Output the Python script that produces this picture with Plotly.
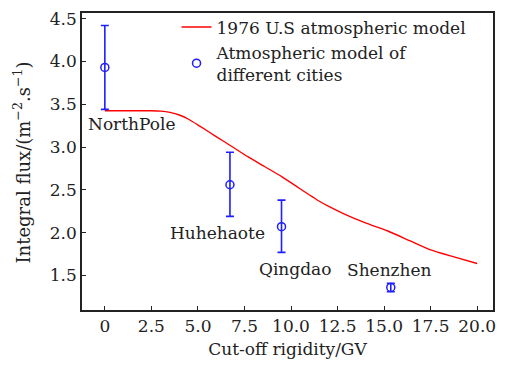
import plotly.graph_objects as go

# 1976 U.S. standard atmosphere model curve
model_rigidity = [0, 1, 2, 2.5, 3.0, 3.5, 4.0, 4.5, 5.1, 6.0, 6.8, 7.7, 8.6, 9.5,
                  10.4, 11.5, 12.0, 12.9, 14.0, 15.2, 16.4, 17.5, 18.8, 20.0]
model_flux = [3.425, 3.425, 3.425, 3.424, 3.42, 3.405, 3.375, 3.325, 3.245, 3.12,
              3.01, 2.885, 2.77, 2.655, 2.525, 2.37, 2.31, 2.215, 2.115, 2.02,
              1.905, 1.80, 1.715, 1.64]

# City atmospheric models with uncertainties
cities = ["NorthPole", "Huhehaote", "Qingdao", "Shenzhen"]
city_rigidity = [0, 6.72, 9.49, 15.36]
city_flux = [3.93, 2.56, 2.07, 1.36]
city_err_plus = [0.49, 0.38, 0.31, 0.05]
city_err_minus = [0.49, 0.37, 0.30, 0.05]

# label anchor positions (data coords)
label_x = [1.44, 6.03, 10.24, 15.3]
label_y = [3.27, 2.0, 1.58, 1.56]

FONT = "DejaVu Serif"
FS = 17
INK = "#222222"
BLUE = "#1f1fff"
RED = "#ff0000"

fig = go.Figure()
fig.add_trace(go.Scatter(
    x=model_rigidity, y=model_flux, mode="lines",
    line=dict(color=RED, width=1.4, shape="spline", smoothing=0.6),
    name="1976 U.S atmospheric model",
))
fig.add_trace(go.Scatter(
    x=city_rigidity, y=city_flux, mode="markers",
    marker=dict(symbol="circle-open", size=8, color=BLUE, line=dict(width=1.5)),
    error_y=dict(type="data", array=city_err_plus, arrayminus=city_err_minus,
                 color=BLUE, thickness=1.6, width=4),
    name="Atmospheric model of<br>different cities",
))

for name, lx, ly in zip(cities, label_x, label_y):
    fig.add_annotation(x=lx, y=ly, text=name, showarrow=False,
                       font=dict(family=FONT, size=FS, color=INK))

# vertical axis title, placed as a rotated annotation
fig.add_annotation(xref="paper", yref="paper", x=-0.145, y=0.498,
                   xanchor="center", yanchor="middle",
                   text="Integral flux/(m<sup>−2</sup>.s<sup>−1</sup>)",
                   textangle=-90, showarrow=False,
                   font=dict(family=FONT, size=18, color=INK))

axis_common = dict(
    showline=True, linecolor=INK, linewidth=1.5, mirror=True,
    ticks="inside", ticklen=4, tickwidth=1, tickcolor=INK,
    showgrid=False, zeroline=False,
    tickfont=dict(family=FONT, size=FS, color=INK),
)

fig.update_layout(
    width=505, height=367,
    margin=dict(l=82, r=9, t=9, b=57),
    paper_bgcolor="white", plot_bgcolor="white",
    xaxis=dict(range=[-1.227, 20.85], tickvals=[0, 2.5, 5, 7.5, 10, 12.5, 15, 17.5, 20],
               ticktext=["0", "2.5", "5.0", "7.5", "10.0", "12.5", "15.0", "17.5", "20.0"],
               title=dict(text="Cut-off rigidity/GV", font=dict(family=FONT, size=FS, color=INK),
                          standoff=8),
               **axis_common),
    yaxis=dict(range=[1.097, 4.566], tickvals=[1.5, 2.0, 2.5, 3.0, 3.5, 4.0, 4.5],
               ticktext=["1.5", "2.0", "2.5", "3.0", "3.5", "4.0", "4.5"],
               **axis_common),
    legend=dict(x=0.23, y=1.012, xanchor="left", yanchor="top",
                bgcolor="rgba(0,0,0,0)", font=dict(family=FONT, size=FS, color=INK),
                tracegroupgap=0, itemwidth=30),
    showlegend=True,
)

fig.write_html("out.html")
